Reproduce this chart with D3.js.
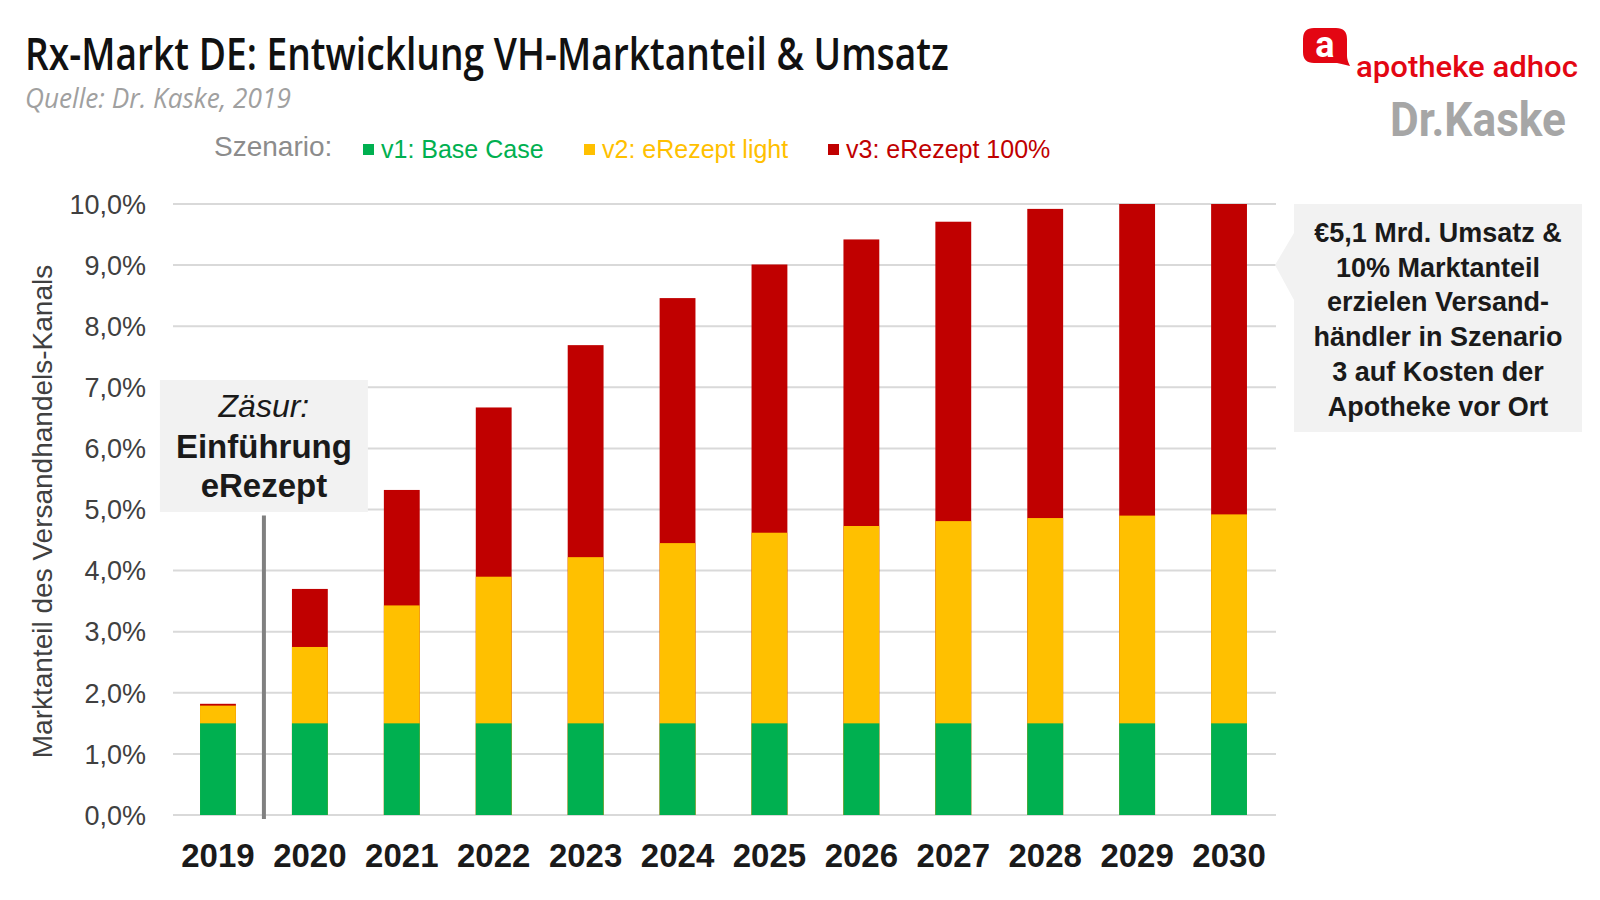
<!DOCTYPE html>
<html>
<head>
<meta charset="utf-8">
<script src="https://cdn.jsdelivr.net/npm/d3@7"></script>
<style>
  body { margin: 0; background: #fff; }
  text { font-family: "Liberation Sans", Arial, sans-serif; }
</style>
</head>
<body>
<script>
// chart data
var years = [2019, 2020, 2021, 2022, 2023, 2024, 2025, 2026, 2027, 2028, 2029, 2030];
var baseCase = [1.5, 1.5, 1.5, 1.5, 1.5, 1.5, 1.5, 1.5, 1.5, 1.5, 1.5, 1.5];      // v1
var eRezeptLight = [1.79, 2.75, 3.43, 3.9, 4.22, 4.45, 4.62, 4.73, 4.81, 4.86, 4.9, 4.92]; // v2
var eRezeptFull = [1.82, 3.7, 5.32, 6.67, 7.69, 8.46, 9.01, 9.42, 9.71, 9.92, 10.0, 10.0]; // v3
var yTicks = [0, 1, 2, 3, 4, 5, 6, 7, 8, 9, 10];

var scenarios = [
    {label: "v1: Base Case", values: baseCase, color: "#00b050"},
    {label: "v2: eRezept light", values: eRezeptLight, color: "#ffc000"},
    {label: "v3: eRezept 100%", values: eRezeptFull, color: "#c00000"}
];

var noteLines = ["€5,1 Mrd. Umsatz &", "10% Marktanteil", "erzielen Versand-",
    "händler in Szenario", "3 auf Kosten der", "Apotheke vor Ort"];

window.onload = drawChart();

//squeeze a text horizontally so that it spans the given width
function fitWidth(sel, x0, w){
    var len = sel.node().getComputedTextLength();
    var k = w / len;
    sel.attr("transform", "translate(" + x0 + ",0) scale(" + k + ",1) translate(" + (-x0) + ",0)");
}

function drawChart(){

    var width = 1600,
        height = 900;

    var svg = d3.select("body")
        .append("svg")
        .attr("width", width)
        .attr("height", height);

    //plot area
    var left = 173, right = 1276, top = 204, bottom = 815;

    var x = d3.scaleBand()
        .domain(years)
        .range([172, 1275])
        .paddingInner(0.61)
        .paddingOuter(0.305);

    var y = d3.scaleLinear()
        .domain([0, 10])
        .range([bottom, top]);

    var fmt = function(d){ return d.toFixed(1).replace(".", ",") + "%"; };

    //gridlines
    svg.append("g")
        .selectAll("line")
        .data(yTicks)
        .enter()
        .append("line")
        .attr("x1", left)
        .attr("x2", right)
        .attr("y1", function(d){ return y(d); })
        .attr("y2", function(d){ return y(d); })
        .attr("stroke", "#d9d9d9")
        .attr("stroke-width", 2);

    //y tick labels
    svg.append("g")
        .selectAll("text")
        .data(yTicks)
        .enter()
        .append("text")
        .attr("x", 146)
        .attr("y", function(d){ return y(d); })
        .attr("dy", "0.36em")
        .attr("text-anchor", "end")
        .attr("font-size", 27)
        .attr("fill", "#404040")
        .text(fmt);

    //y axis title
    svg.append("text")
        .attr("transform", "translate(52," + ((top + bottom) / 2 + 2) + ") rotate(-90)")
        .attr("text-anchor", "middle")
        .attr("font-size", 28)
        .attr("fill", "#404040")
        .text("Marktanteil des Versandhandels-Kanals");

    //bars: largest scenario first, others drawn over it
    scenarios.slice().reverse().forEach(function(s){
        svg.append("g")
            .selectAll("rect")
            .data(years)
            .enter()
            .append("rect")
            .attr("x", function(d){ return x(d); })
            .attr("width", x.bandwidth())
            .attr("y", function(d, i){ return y(s.values[i]); })
            .attr("height", function(d, i){ return y(0) - y(s.values[i]); })
            .attr("fill", s.color);
    });

    //x labels
    svg.append("g")
        .selectAll("text")
        .data(years)
        .enter()
        .append("text")
        .attr("x", function(d){ return x(d) + x.bandwidth() / 2; })
        .attr("y", 867)
        .attr("text-anchor", "middle")
        .attr("font-size", 33)
        .attr("font-weight", "bold")
        .attr("fill", "#1a1a1a")
        .text(function(d){ return d; });

    //separator between 2019 and 2020
    var sepX = (x(2019) + x.bandwidth() + x(2020)) / 2;
    svg.append("line")
        .attr("x1", sepX)
        .attr("x2", sepX)
        .attr("y1", y(4.9))
        .attr("y2", y(0) + 4)
        .attr("stroke", "#808080")
        .attr("stroke-width", 4);

    //left annotation box
    svg.append("rect")
        .attr("x", sepX - 104)
        .attr("y", 380)
        .attr("width", 208)
        .attr("height", 132)
        .attr("fill", "#f2f2f2");

    svg.append("text")
        .attr("x", sepX)
        .attr("y", 417)
        .attr("text-anchor", "middle")
        .attr("font-size", 32)
        .attr("font-style", "italic")
        .attr("fill", "#1a1a1a")
        .text("Zäsur:");

    svg.append("text")
        .attr("x", sepX)
        .attr("y", 458)
        .attr("text-anchor", "middle")
        .attr("font-size", 33)
        .attr("font-weight", "bold")
        .attr("fill", "#1a1a1a")
        .text("Einführung");

    svg.append("text")
        .attr("x", sepX)
        .attr("y", 497)
        .attr("text-anchor", "middle")
        .attr("font-size", 33)
        .attr("font-weight", "bold")
        .attr("fill", "#1a1a1a")
        .text("eRezept");

    //right callout box with pointer
    svg.append("path")
        .attr("d", "M1294,204 H1582 V432 H1294 V300 L1275,265 L1294,233 Z")
        .attr("fill", "#f2f2f2");

    svg.append("g")
        .selectAll("text")
        .data(noteLines)
        .enter()
        .append("text")
        .attr("x", 1438)
        .attr("y", function(d, i){ return 242 + i * 34.7; })
        .attr("text-anchor", "middle")
        .attr("font-size", 27)
        .attr("font-weight", "bold")
        .attr("fill", "#1a1a1a")
        .text(function(d){ return d; });

    //title and source
    var title = svg.append("text")
        .attr("x", 25)
        .attr("y", 70)
        .attr("font-size", 45)
        .attr("font-weight", 600)
        .style("font-family", "'Open Sans', sans-serif")
        .attr("fill", "#111")
        .text("Rx-Markt DE: Entwicklung VH-Marktanteil & Umsatz");
    fitWidth(title, 25, 924);

    var source = svg.append("text")
        .attr("x", 25)
        .attr("y", 108)
        .attr("font-size", 27)
        .attr("font-style", "italic")
        .style("font-family", "'Open Sans', sans-serif")
        .attr("fill", "#a0a0a0")
        .text("Quelle: Dr. Kaske, 2019");
    fitWidth(source, 25, 266);

    //legend
    svg.append("text")
        .attr("x", 214)
        .attr("y", 156)
        .attr("font-size", 28)
        .attr("fill", "#8c8c8c")
        .text("Szenario:");

    var legendX = [363, 584, 828];
    var legend = svg.append("g")
        .selectAll("g")
        .data(scenarios)
        .enter()
        .append("g")
        .attr("transform", function(d, i){ return "translate(" + legendX[i] + ",0)"; });

    legend.append("rect")
        .attr("x", 0)
        .attr("y", 144)
        .attr("width", 11)
        .attr("height", 11)
        .attr("fill", function(d){ return d.color; });

    legend.append("text")
        .attr("x", 18)
        .attr("y", 158)
        .attr("font-size", 25)
        .attr("fill", function(d){ return d.color; })
        .text(function(d){ return d.label; });

    //logos
    svg.append("path")
        .attr("d", "M1314,28 H1336 Q1347,28 1347,39 V56 Q1347,60 1350,66 Q1342,64 1337,63 H1314 Q1303,63 1303,52 V39 Q1303,28 1314,28 Z")
        .attr("fill", "#e30613");

    svg.append("text")
        .attr("x", 1325)
        .attr("y", 57)
        .attr("text-anchor", "middle")
        .attr("font-size", 36)
        .attr("font-weight", "bold")
        .style("font-family", "'Roboto', sans-serif")
        .attr("fill", "#fff")
        .text("a");

    var adhoc = svg.append("text")
        .attr("x", 1356)
        .attr("y", 77)
        .attr("font-size", 29)
        .attr("font-weight", 500)
        .style("font-family", "'Roboto', sans-serif")
        .attr("fill", "#e30613")
        .text("apotheke adhoc");
    fitWidth(adhoc, 1356, 222);

    var kaske = svg.append("text")
        .attr("x", 1390)
        .attr("y", 136)
        .attr("font-size", 48)
        .attr("font-weight", "bold")
        .style("font-family", "'Roboto', sans-serif")
        .attr("fill", "#a6a6a6")
        .text("Dr.Kaske");
    fitWidth(kaske, 1390, 176);
};
</script>
</body>
</html>
